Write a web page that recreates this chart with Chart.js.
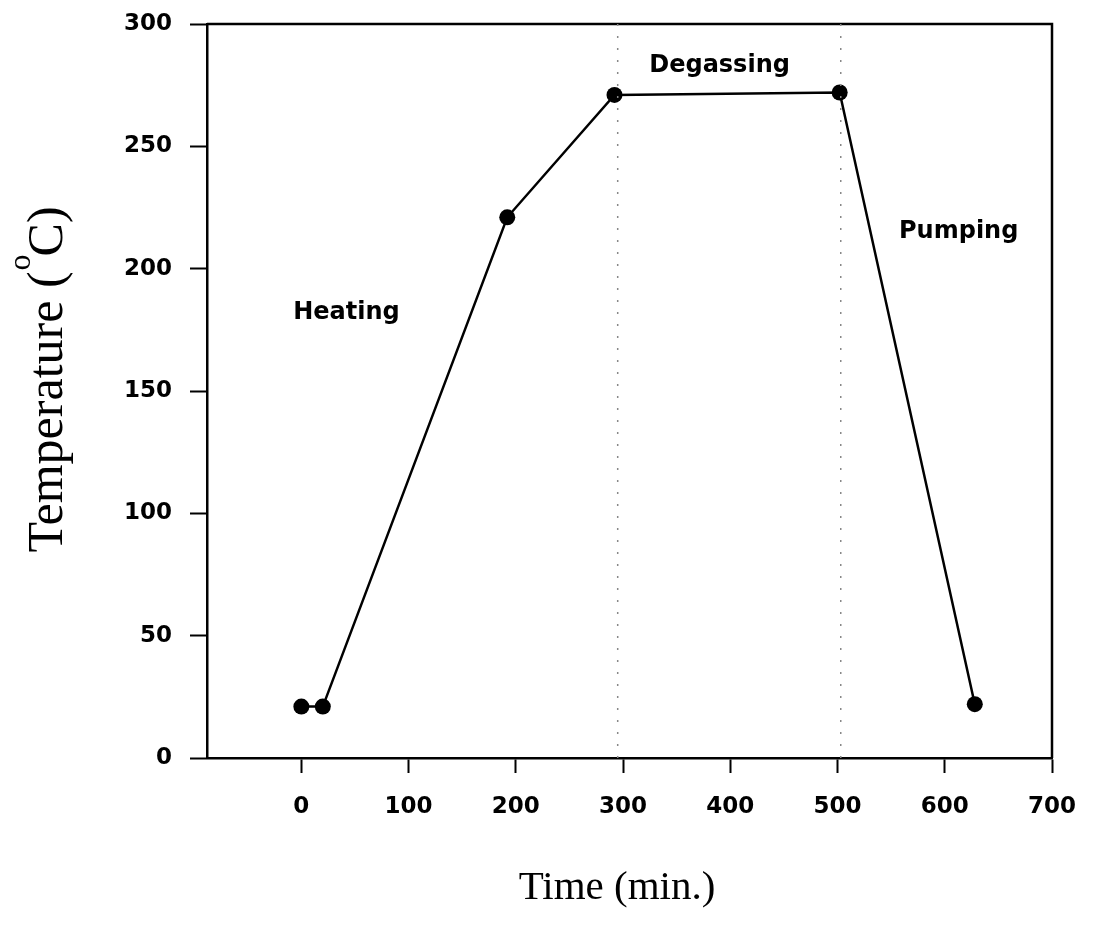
<!DOCTYPE html>
<html>
<head>
<meta charset="utf-8">
<script src="https://cdn.jsdelivr.net/npm/chart.js@4"></script>
<style>
  html, body { margin: 0; padding: 0; background: #fff; }
  #wrap { width: 1094px; height: 937px; }
</style>
</head>
<body>
<div id="wrap"><canvas id="myChart" width="1094" height="937"></canvas></div>
<script>
// data
var timeMin = [0, 20, 192, 292, 502, 628];
var tempC = [21, 21, 221, 271, 272, 22];
var xTicks = [0, 100, 200, 300, 400, 500, 600, 700];
var yTicks = [0, 50, 100, 150, 200, 250, 300];
var phaseLines = [295, 503];            // dotted separators (min)
var phaseNames = ['Heating', 'Degassing', 'Pumping'];
var phaseLabelX = [42, 390, 613];
var phaseLabelY = [182, 283, 215];

var points = timeMin.map(function (t, i) { return { x: t, y: tempC[i] }; });

// frame, dotted lines, phase names and axis titles
var extras = {
    id: 'extras',
    afterDraw: function (chart) {
        var ctx = chart.ctx;
        var a = chart.chartArea;
        var xs = chart.scales.x, ys = chart.scales.y;
        ctx.save();
        // top and right border
        ctx.strokeStyle = '#000';
        ctx.lineWidth = 2.5;
        ctx.beginPath();
        ctx.moveTo(a.left, a.top);
        ctx.lineTo(a.right, a.top);
        ctx.lineTo(a.right, a.bottom);
        ctx.stroke();

        // dotted phase lines
        ctx.strokeStyle = '#888';
        ctx.lineWidth = 1.5;
        ctx.setLineDash([2, 10]);
        phaseLines.forEach(function (v) {
            var px = xs.getPixelForValue(v);
            ctx.beginPath();
            ctx.moveTo(px, a.top);
            ctx.lineTo(px, a.bottom);
            ctx.stroke();
        });
        ctx.setLineDash([]);

        // phase names
        ctx.fillStyle = '#000';
        ctx.font = 'bold 24px "DejaVu Sans", sans-serif';
        ctx.textAlign = 'center';
        ctx.textBaseline = 'middle';
        phaseNames.forEach(function (n, i) {
            ctx.fillText(n, xs.getPixelForValue(phaseLabelX[i]), ys.getPixelForValue(phaseLabelY[i]));
        });

        // x title
        ctx.textBaseline = 'alphabetic';
        ctx.font = '41px "Liberation Serif", "Times New Roman", serif';
        ctx.fillText('Time (min.)', 617, 899);

        // y title with superscript o
        ctx.translate(48, 379);
        ctx.rotate(-Math.PI / 2);
        var big = '50px "Liberation Serif", "Times New Roman", serif';
        var small = '32px "Liberation Serif", "Times New Roman", serif';
        var p1 = 'Temperature (', p2 = 'o', p3 = 'C)';
        ctx.font = big;
        var w1 = ctx.measureText(p1).width, w3 = ctx.measureText(p3).width;
        ctx.font = small;
        var w2 = ctx.measureText(p2).width;
        var x0 = -(w1 + w2 + w3) / 2;
        ctx.textAlign = 'left';
        ctx.font = big;
        ctx.fillText(p1, x0, 14);
        ctx.font = small;
        ctx.fillText(p2, x0 + w1 + 1, -18);
        ctx.font = big;
        ctx.fillText(p3, x0 + w1 + w2 - 1, 14);
        ctx.restore();
    }
};

var tickFont = { family: '"DejaVu Sans", sans-serif', size: 23, weight: 'bold' };

new Chart(document.getElementById('myChart'), {
    type: 'scatter',
    data: {
        datasets: [{
            data: points,
            showLine: true,
            borderColor: '#000',
            borderWidth: 2.5,
            backgroundColor: '#000',
            pointRadius: 8,
            pointBorderWidth: 0
        }]
    },
    options: {
        responsive: false,
        animation: false,
        layout: { padding: { top: 24, right: 42, left: 0, bottom: 0 } },
        plugins: { legend: { display: false }, tooltip: { enabled: false } },
        scales: {
            x: {
                type: 'linear',
                min: -88,
                max: 700,
                afterBuildTicks: function (s) {
                    s.ticks = xTicks.map(function (v) { return { value: v }; });
                },
                afterFit: function (s) { s.height = 179; s.paddingLeft = 0; s.paddingRight = 0; },
                grid: { drawOnChartArea: false, tickLength: 15, tickWidth: 2, tickColor: '#000' },
                border: { color: '#000', width: 2.5 },
                ticks: { color: '#000', font: tickFont, padding: 20, maxRotation: 0 }
            },
            y: {
                min: 0,
                max: 300,
                afterBuildTicks: function (s) {
                    s.ticks = yTicks.map(function (v) { return { value: v }; });
                },
                afterFit: function (s) { s.width = 207; s.paddingTop = 0; s.paddingBottom = 0; },
                grid: { drawOnChartArea: false, tickLength: 17, tickWidth: 2, tickColor: '#000' },
                border: { color: '#000', width: 2.5 },
                ticks: { color: '#000', font: tickFont, padding: 18 }
            }
        }
    },
    plugins: [extras]
});
</script>
</body>
</html>
